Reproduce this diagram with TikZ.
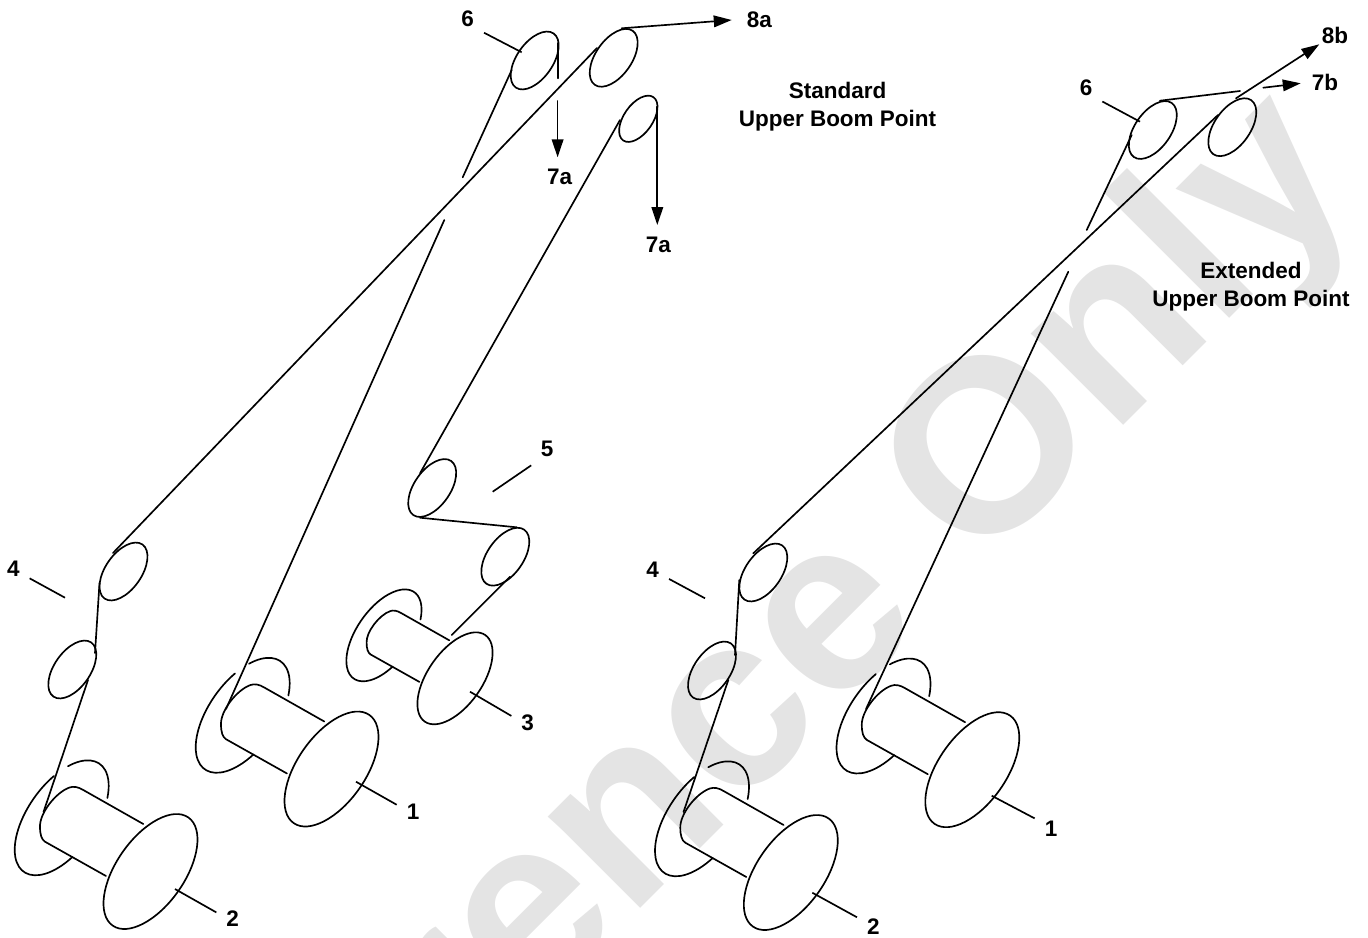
\documentclass[tikz,border=0pt]{standalone}
\usepackage{fontspec}
\setmainfont{Liberation Sans}
\usepackage{xcolor}
\usetikzlibrary{arrows.meta, positioning, calc}
\definecolor{stampgrey}{RGB}{228, 228, 228}
\tikzset{
    rope/.style={black, line width=0.95pt, line cap=round},
    leader/.style={black, line width=0.95pt},
    wirearrow/.style={rope, -{Triangle[length=10.2pt, width=6.6pt]}},
    tag/.style={font=\fontsize{12.8}{15}\selectfont\bfseries, inner sep=0pt, minimum size=0.64cm},
    caption/.style={font=\fontsize{12.8}{16}\selectfont\bfseries, align=center, inner sep=0pt}
}

\begin{document}
\begin{tikzpicture}[x=0.02cm, y=0.02cm]
    \useasboundingbox (0,0) rectangle (1368,-937);
    % Background stamp
    \node[rotate=45, anchor=base, text=stampgrey, font=\fontsize{140}{140}\selectfont\bfseries] (stamp) at (725,-823.5) {Reference Only};
    % Drums: x / y / size / where the rear flange arc starts
    \foreach \dx/\dy/\ds/\gs in {150.5/-871.5/1/46, 331.5/-769/1/46, 455/-678.3/0.8/63,
                                 790.8/-872.5/1/46, 972.3/-769.7/1/46} {
        \begin{scope}[shift={(\dx,\dy)}, scale=\ds]
            \draw[rope, rotate=55] (0,0) ellipse (66 and 34);
            \draw[rope] (-7.2,47.5) -- (-67.2,81.5)
                .. controls (-72,84.5) and (-77,85.5) .. (-81,84)
                .. controls (-95,79) and (-111,58) .. (-110.5,44.8)
                .. controls (-110.5,37) and (-109,32) .. (-105.5,29.8)
                -- (-44.5,-4.5);
            \begin{scope}[shift={(-88.8,53.7)}, rotate=55]
                \draw[rope] (63:66 and 34) arc[start angle=63, end angle=247, x radius=66, y radius=34];
                \draw[rope] (\gs:66 and 34) arc[start angle=\gs, end angle=-50, x radius=66, y radius=34];
            \end{scope}
        \end{scope}
    }
    % Sheaves
    \foreach \px/\py/\ps in {123.5/-571.5/1, 72.3/-669.5/1, 534.7/-60.5/1, 613.7/-57.8/1,
                             638.3/-118.8/0.8, 432.2/-488/1, 505.3/-556.7/1,
                             763.3/-572.5/1, 712/-670.5/1, 1152.8/-130/1, 1232.3/-127.2/1} {
        \draw[rope, shift={(\px,\py)}, rotate=55, scale=\ps] (0,0) ellipse (33 and 18);
    }
    % Standard boom: ropes
    \draw[rope] (43.5,-812) -- (88,-680);
    \draw[rope] (95,-653) -- (99.5,-583);
    \draw[rope] (113,-553) -- (597,-48);
    \draw[wirearrow] (621.7,-28.3) -- (731.7,-20);
    \draw[rope] (226,-709) -- (444.3,-220);
    \draw[rope] (462.7,-177.3) -- (511.7,-70);
    \draw[rope] (558.3,-43) -- (558.3,-78.3);
    \draw[wirearrow] (557.6,-101) -- (557.6,-157.3);
    \draw[rope] (451.7,-635) -- (510,-576.7);
    \draw[rope] (516.7,-527.3) -- (420,-517.7);
    \draw[rope] (420,-473.3) -- (620,-120);
    \draw[wirearrow] (657.3,-106.7) -- (657.3,-225);
    % Extended boom: ropes
    \draw[rope] (683.5,-812) -- (728.3,-680);
    \draw[rope] (735,-655) -- (739.3,-580);
    \draw[rope] (753.3,-553.3) -- (1218,-115);
    \draw[wirearrow] (1236,-98.3) -- (1319.3,-44.3);
    \draw[rope] (866,-709) -- (1068.3,-271.7);
    \draw[rope] (1086.7,-230) -- (1131.7,-135);
    \draw[rope] (1160,-100.7) -- (1240,-91);
    \draw[wirearrow] (1263.3,-87.7) -- (1300.7,-83.3);
    % Part numbers and their leaders
    \node[tag] (sixL) at (467.7,-19) {6};
    \node[tag] (fiveL) at (547,-449) {5};
    \node[tag] (threeL) at (527.7,-722.5) {3};
    \node[tag] (fourL) at (13.3,-568.5) {4};
    \node[tag] (twoL) at (232.7,-919) {2};
    \node[tag] (oneL) at (413,-812) {1};
    \node[tag] (fourR) at (652.7,-569.5) {4};
    \node[tag] (twoR) at (873.3,-926.7) {2};
    \node[tag] (oneR) at (1051,-829) {1};
    \node[tag] (sixR) at (1086,-87.3) {6};
    \coordinate (sixLend) at (521.7,-52.3);
    \coordinate (fiveLend) at (492.7,-491.7);
    \coordinate (threeLend) at (470,-691.7);
    \coordinate (fourLend) at (65,-597.7);
    \coordinate (twoLend) at (175,-889);
    \coordinate (oneLend) at (356,-781.7);
    \coordinate (fourRend) at (705,-598.3);
    \coordinate (twoRend) at (812.3,-892.7);
    \coordinate (oneRend) at (991.7,-795.7);
    \coordinate (sixRend) at (1140,-121.7);
    \draw[leader] (sixL.-40) -- (sixLend);
    \draw[leader] (fiveL.-134) -- (fiveLend);
    \draw[leader] (threeL.158) -- (threeLend);
    \draw[leader] (fourL.-31) -- (fourLend);
    \draw[leader] (twoL.158) -- (twoLend);
    \draw[leader] (oneL.156) -- (oneLend);
    \draw[leader] (fourR.-30) -- (fourRend);
    \draw[leader] (twoR.150) -- (twoRend);
    \draw[leader] (oneR.147) -- (oneRend);
    \draw[leader] (sixR.-41) -- (sixRend);
    % Rope ends
    \node[tag] (eightA) at (759.3,-20) {8a};
    \node[tag] (sevenAup) at (559.7,-176.8) {7a};
    \node[tag] (sevenAlo) at (658.3,-244.8) {7a};
    \node[tag] (eightB) at (1335,-35.7) {8b};
    \node[tag] (sevenB) at (1325,-82.2) {7b};
    % Captions
    \node[caption] (capStd) at (837.5,-106.5) {Standard\\Upper Boom Point};
    \node[caption] (capExt) at (1251,-286.5) {Extended\\Upper Boom Point};
\end{tikzpicture}
\end{document}
